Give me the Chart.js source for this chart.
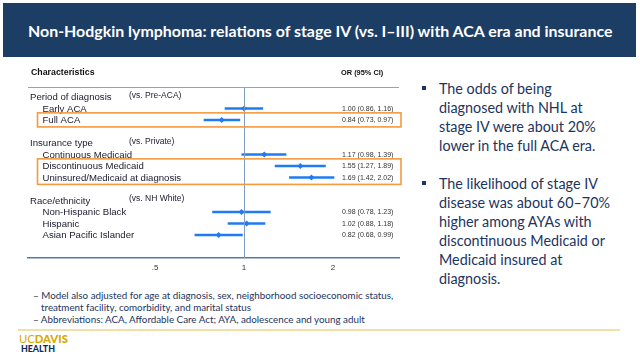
<!DOCTYPE html>
<html><head><meta charset="utf-8">
<script src="https://cdn.jsdelivr.net/npm/chart.js@4/dist/chart.umd.min.js"></script>
<style>
html,body{margin:0;padding:0;background:#fff;}
#slide{position:relative;width:640px;height:357px;overflow:hidden;background:#fff;font-family:Lato,'Open Sans',sans-serif;}
#banner{position:absolute;left:3px;top:3px;width:633px;height:54px;background:#1c3d64;}
.t{position:absolute;white-space:nowrap;line-height:1;}
#title{color:#fff;font-weight:700;left:28px;top:23px;}
.bul{position:absolute;color:#1c345e;white-space:nowrap;}
.sq{position:absolute;width:4px;height:4px;background:#1c345e;}
.fn{position:absolute;color:#1c345e;white-space:nowrap;line-height:12px;}
#gold{position:absolute;left:18px;top:329px;width:602px;height:2px;background:#f3e0a6;}
#uc{position:absolute;left:19px;top:333px;color:#d9a800;white-space:nowrap;line-height:1;}
#health{position:absolute;left:21px;top:345px;color:#0b2c5a;font-weight:900;white-space:nowrap;line-height:1;}
#chartBox{position:absolute;left:0;top:60px;width:420px;height:225px;}
</style></head>
<body>
<div id="slide">
  <div id="banner"></div>
  <div id="title" class="t">Non-Hodgkin lymphoma: relations of stage IV (vs. I–III) with ACA era and insurance</div>
  <div id="chartBox"><canvas id="c" width="420" height="225"></canvas></div>

  <div class="sq" style="left:422px;top:86px;"></div>
  <div class="bul" id="b1" style="left:439px;top:79px;line-height:19px;">The odds of being<br>diagnosed with NHL at<br>stage IV were about 20%<br>lower in the full ACA era.</div>
  <div class="sq" style="left:422px;top:181px;"></div>
  <div class="bul" id="b2" style="left:439px;top:173.5px;line-height:19px;"><span id="ref2">The likelihood of stage IV</span><br>disease was about 60–70%<br>higher among AYAs with<br>discontinuous Medicaid or<br>Medicaid insured at<br>diagnosis.</div>

  <div class="fn" id="fn1" style="left:33px;top:289px;">– Model also adjusted for age at diagnosis, sex, neighborhood socioeconomic status,</div>
  <div class="fn" id="fn2" style="left:41px;top:301px;">treatment facility, comorbidity, and marital status</div>
  <div class="fn" id="fn3" style="left:33px;top:313px;">– Abbreviations: ACA, Affordable Care Act; AYA, adolescence and young adult</div>
  <div id="gold"></div>
  <div id="uc"><span style="font-weight:400">UC</span><span style="font-weight:900">DAVIS</span></div>
  <div id="health">HEALTH</div>
</div>
<script>
// ---- data ----
const groups = ['Period of diagnosis', 'Insurance type', 'Race/ethnicity'];
const groupRefs = ['(vs. Pre-ACA)', '(vs. Private)', '(vs. NH White)'];
const categories = ['Early ACA', 'Full ACA', 'Continuous Medicaid', 'Discontinuous Medicaid',
  'Uninsured/Medicaid at diagnosis', 'Non-Hispanic Black', 'Hispanic', 'Asian Pacific Islander'];
const categoryGroup = [0, 0, 1, 1, 1, 2, 2, 2];
const oddsRatio = [1.00, 0.84, 1.17, 1.55, 1.69, 0.98, 1.02, 0.82];
const ciLower = [0.86, 0.73, 0.98, 1.27, 1.42, 0.78, 0.88, 0.68];
const ciUpper = [1.16, 0.97, 1.39, 1.89, 2.02, 1.23, 1.18, 0.99];
const orText = ['1.00 (0.86, 1.16)', '0.84 (0.73, 0.97)', '1.17 (0.98, 1.39)', '1.55 (1.27, 1.89)',
  '1.69 (1.42, 2.02)', '0.98 (0.78, 1.23)', '1.02 (0.88, 1.18)', '0.82 (0.68, 0.99)'];
const highlightedRanges = [[1, 1], [3, 4]];
const xTickValues = [0.5, 1, 2];
const xTickLabels = ['.5', '1', '2'];
const headerLabels = ['Characteristics', 'OR (95% CI)'];

// ---- fit slide text widths ----
function fitWidth(el, target, base) {
  el.style.fontSize = base + 'px';
  const w = el.getBoundingClientRect().width;
  const s = base * target / w;
  el.style.fontSize = s + 'px';
  return s;
}
fitWidth(document.getElementById('title'), 585, 20);
{
  const ref = document.getElementById('ref2');
  const b2 = document.getElementById('b2');
  b2.style.fontSize = '20px';
  const w = ref.getBoundingClientRect().width;
  const s = 20 * 159 / w;
  b2.style.fontSize = s + 'px';
  document.getElementById('b1').style.fontSize = s + 'px';
}
{
  const s = fitWidth(document.getElementById('fn1'), 361, 12);
  document.getElementById('fn2').style.fontSize = s + 'px';
  document.getElementById('fn3').style.fontSize = s + 'px';
}
fitWidth(document.getElementById('uc'), 49, 12);
fitWidth(document.getElementById('health'), 34, 10);

// ---- row layout (index positions) ----
const groupRow = [];
const catRow = [];
{
  let r = 0;
  groups.forEach((g, gi) => {
    groupRow.push(r); r++;
    categories.forEach((c, ci) => { if (categoryGroup[ci] === gi) { catRow[ci] = r; r++; } });
    r++;
  });
}

const BLUE = '#1f7bf2';
const datasets = categories.map((c, i) => ({
  type: 'scatter', showLine: true, label: c,
  data: [{x: ciLower[i], y: catRow[i]}, {x: ciUpper[i], y: catRow[i]}],
  borderColor: BLUE, borderWidth: 2.6, pointRadius: 0, pointHoverRadius: 0
}));
datasets.push({
  type: 'scatter', label: 'OR',
  data: oddsRatio.map((v, i) => ({x: v, y: catRow[i]})),
  backgroundColor: BLUE, borderColor: BLUE, pointStyle: 'rectRot', pointRadius: 3, borderWidth: 0
});

const textPlugin = {
  id: 'forestText',
  afterDraw(chart) {
    const ctx = chart.ctx, ca = chart.chartArea, ys = chart.scales.y, xs = chart.scales.x;
    ctx.save();
    ctx.strokeStyle = '#8aa4c4'; ctx.lineWidth = 1;
    ctx.beginPath(); ctx.moveTo(ca.left, ca.top + 0.5); ctx.lineTo(ca.right, ca.top + 0.5); ctx.stroke();
    const x1 = Math.round(xs.getPixelForValue(1)) + 0.5;
    ctx.strokeStyle = '#7f9cc0'; ctx.lineWidth = 1;
    ctx.beginPath(); ctx.moveTo(x1, ca.top); ctx.lineTo(x1, ca.bottom); ctx.stroke();
    ctx.fillStyle = '#111';
    ctx.textBaseline = 'middle';
    const hy = ys.getPixelForValue(-2.1);
    ctx.font = 'bold 8.8px "Liberation Sans", Arial, sans-serif';
    ctx.fillText(headerLabels[0], ca.left + 3, hy);
    ctx.font = 'bold 7.4px "Liberation Sans", Arial, sans-serif';
    ctx.fillText(headerLabels[1], ca.left + 313, hy);
    groups.forEach((g, gi) => {
      const y = ys.getPixelForValue(groupRow[gi]);
      ctx.fillStyle = '#1a1a2e';
      ctx.font = '9.6px "Liberation Sans", Arial, sans-serif';
      ctx.fillText(g, ca.left + 2, y + 0.5);
      ctx.font = '8.5px "Liberation Sans", Arial, sans-serif';
      ctx.fillText(groupRefs[gi], ca.left + 101, y - 1.5);
    });
    categories.forEach((c, i) => {
      const y = ys.getPixelForValue(catRow[i]);
      ctx.fillStyle = '#1a1a2e';
      ctx.font = '9.6px "Liberation Sans", Arial, sans-serif';
      ctx.fillText(c, ca.left + 14.5, y + 0.5);
      ctx.fillStyle = '#333';
      ctx.font = '7px "Liberation Sans", Arial, sans-serif';
      ctx.fillText(orText[i], ca.left + 314, y + 0.5);
    });
    ctx.strokeStyle = '#f39a3d'; ctx.lineWidth = 1.6;
    highlightedRanges.forEach(([a, b]) => {
      const top = ys.getPixelForValue(catRow[a] - 0.62);
      const bot = ys.getPixelForValue(catRow[b] + 0.6);
      ctx.strokeRect(ca.left + 9.5, top, ca.right + 2 - (ca.left + 9.5), bot - top);
    });
    ctx.restore();
  }
};

new Chart(document.getElementById('c'), {
  type: 'scatter',
  data: { datasets },
  options: {
    responsive: false, animation: false, devicePixelRatio: 1,
    layout: { padding: { left: 28, right: 21, top: 27, bottom: 7 } },
    plugins: { legend: { display: false }, tooltip: { enabled: false } },
    scales: {
      x: {
        type: 'logarithmic', min: 0.1857, max: 3.344,
        afterBuildTicks: s => { s.ticks = xTickValues.map(v => ({ value: v })); },
        afterFit: s => { s.height = 20; },
        grid: { display: false, drawTicks: false },
        border: { display: true, color: '#5878a0', width: 1.5 },
        ticks: { callback: (v, i) => xTickLabels[i], autoSkip: false, maxRotation: 0,
          font: { family: 'Liberation Sans', size: 8 }, color: '#333', padding: 5 }
      },
      y: { type: 'linear', reverse: true, min: -0.87, max: 14, display: false }
    }
  },
  plugins: [textPlugin]
});
</script>
</body></html>
